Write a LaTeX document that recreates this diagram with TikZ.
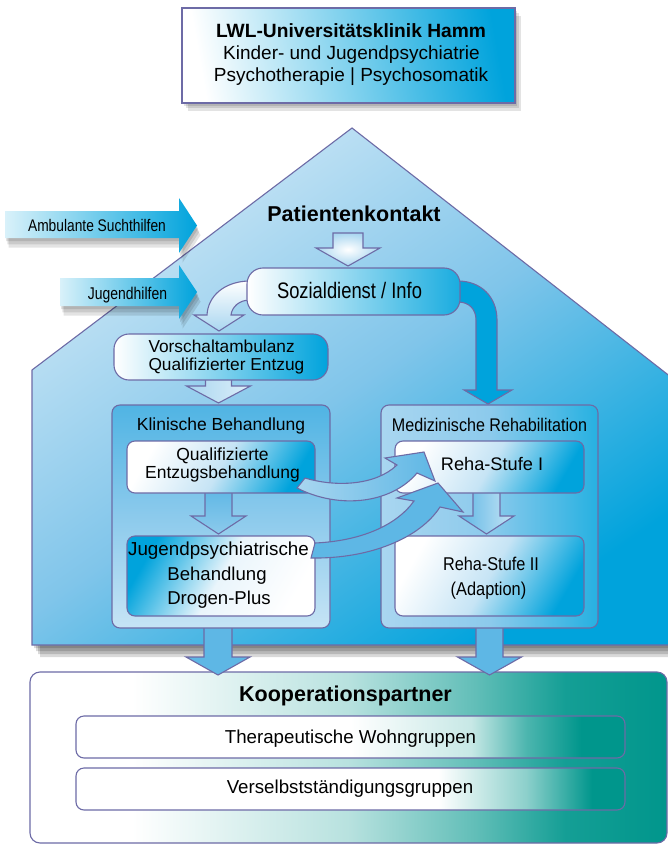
\documentclass[tikz,border=0pt]{standalone}
\usepackage{fontspec}
\setmainfont{Liberation Sans}
\newfontfamily\condf[FakeStretch=0.82]{Liberation Sans}
\newfontfamily\semif[FakeStretch=0.88]{Liberation Sans}
\newcommand\setfs[1]{\fontsize{#1pt}{#1pt}\selectfont}
\definecolor{cblue}{HTML}{00A3DC}
\definecolor{cbord}{HTML}{6D6BA6}
\definecolor{cteal}{HTML}{00968C}
\definecolor{clight}{HTML}{CDE7F6}
\definecolor{cmid}{HTML}{8CCAEC}
\definecolor{chouse}{HTML}{80C5EA}
\definecolor{cpale}{HTML}{A9D6F0}
\definecolor{csky}{HTML}{5EB7E5}
\definecolor{cwash}{HTML}{C6E4F5}
\pgfdeclarehorizontalshading{koopsh}{100bp}{color(0bp)=(white); color(33bp)=(white); color(50bp)=(cteal!28); color(60bp)=(cteal!62); color(67bp)=(cteal!92); color(75bp)=(cteal); color(100bp)=(cteal)}
\pgfdeclarehorizontalshading{innerash}{100bp}{color(0bp)=(white); color(50bp)=(white); color(61bp)=(cteal!22); color(66bp)=(cteal!70); color(71bp)=(cteal); color(100bp)=(cteal)}
\pgfdeclarehorizontalshading{innerbsh}{100bp}{color(0bp)=(white); color(58bp)=(white); color(66bp)=(cteal!45); color(72bp)=(cteal); color(100bp)=(cteal)}
\tikzset{
  bord/.style={draw=cbord, line width=1.1pt},
  lbl/.style={anchor=base, inner sep=0pt, outer sep=0pt, text=black},
  shadowfill/.style={fill=black, opacity=0.11},
  boxnode/.style={bord, inner sep=0pt, outer sep=0pt},
  whitebluebox/.style={boxnode, rounded corners=8pt, top color=white, bottom color=cblue, middle color=cwash, shading angle=60},
  panelarrow/.style={bord, left color=csky, middle color=cwash, right color=csky},
}
\newcommand{\blockdown}[7]{\path[#1] (#2-#6,#3) -- (#2+#6,#3) -- (#2+#6,#4) -- (#2+#7,#4) -- (#2,#5) -- (#2-#7,#4) -- (#2-#6,#4) -- cycle;}
\begin{document}
\begin{tikzpicture}[x=1pt,y=-1pt]
\useasboundingbox (0,0) rectangle (668,845);
\fill[white] (0,0) rectangle (668,845);

% ---------- top box ----------
\foreach \d in {2,4,6}{\fill[shadowfill] (182+\d,8+1.3*\d) rectangle (515+\d,103+1.3*\d);}
\node[boxnode, minimum width=333pt, minimum height=95pt, left color=white, middle color=cwash, right color=cblue, shading angle=100] (topbox) at (348.5,55.5) {};
\node[lbl, font=\bfseries\setfs{19.2}] (t1) at (351,38) {LWL-Universitätsklinik Hamm};
\node[lbl, font=\setfs{19}] (t2) at (351.5,60) {Kinder- und Jugendpsychiatrie};
\node[lbl, font=\setfs{19}] (t3) at (351,82) {Psychotherapie | Psychosomatik};

% ---------- house ----------
\foreach \d in {2,4,6,8}{\fill[fill=black, opacity=0.15, shift={(\d,1.5*\d)}] (32,370) -- (352,128) -- (676,381) -- (676,645) -- (32,645) -- cycle;}
\path[bord, top color=clight, bottom color=cblue, middle color=chouse, shading angle=35] (32,370) -- (352,128) -- (676,381) -- (676,645) -- (32,645) -- cycle;

% ---------- Kooperationspartner ----------
\node[boxnode, shade, shading=koopsh, rounded corners=10pt, minimum width=637pt, minimum height=171pt] (koop) at (348.5,757.5) {};
\node[boxnode, shade, shading=innerash, rounded corners=8pt, minimum width=549pt, minimum height=42pt] (wohn) at (350.5,737) {};
\node[boxnode, shade, shading=innerbsh, rounded corners=8pt, minimum width=549pt, minimum height=42pt] (versb) at (350.5,789) {};
\node[lbl, font=\bfseries\setfs{21.5}] (kt) at (345.5,701.5) {Kooperationspartner};
\node[lbl, font=\setfs{18.7}] (wt) at (350.5,743) {Therapeutische Wohngruppen};
\node[lbl, font=\setfs{18.7}] (vt) at (350,793) {Verselbstständigungsgruppen};

% arrows into Kooperationspartner
\blockdown{bord, left color=csky, middle color=white!70!cpale, right color=csky}{218}{622}{657}{675}{14}{32}
\blockdown{bord, left color=csky, middle color=white!70!cpale, right color=csky}{489.5}{622}{657}{675}{13.5}{32}

% ---------- left arrows ----------
\foreach \d in {2,4,6}{\fill[shadowfill, shift={(0.6*\d,1.6*\d)}] (5,211) -- (179,211) -- (179,198) -- (197,225.5) -- (179,253) -- (179,238) -- (5,238) -- cycle;}
\path[left color=white!85!cblue, middle color=cpale, right color=cblue] (5,211) -- (179,211) -- (179,198) -- (197,225.5) -- (179,253) -- (179,238) -- (5,238) -- cycle;
\node[lbl, font=\condf\setfs{16.8}] (amb) at (97,231) {Ambulante Suchthilfen};
\foreach \d in {2,4,6}{\fill[shadowfill, shift={(0.6*\d,1.6*\d)}] (60,278) -- (179,278) -- (179,265) -- (197,292) -- (179,319) -- (179,306) -- (60,306) -- cycle;}
\path[left color=white!85!cblue, middle color=cpale, right color=cblue] (60,278) -- (179,278) -- (179,265) -- (197,292) -- (179,319) -- (179,306) -- (60,306) -- cycle;
\node[lbl, font=\condf\setfs{17}] (jh) at (127.5,299) {Jugendhilfen};

% ---------- Patientenkontakt ----------
\node[lbl, font=\bfseries\setfs{21.5}] (pk) at (354,221) {Patientenkontakt};
\blockdown{bord, inner color=white, outer color=cpale}{348}{233}{248}{266}{15}{32}

% curved arrows out of Sozialdienst
\path[bord, top color=white, bottom color=cpale] (262,281) -- (248,281) .. controls (224,282) and (208,296) .. (207,315) -- (194,315) -- (219,331) -- (244,315) -- (231,315) .. controls (232,307) and (239,300) .. (250,300) -- (262,300) -- cycle;
\path[bord, fill=cblue] (445,281) -- (458,281) .. controls (481,281) and (497,297) .. (497,320) -- (497,390) -- (512,390) -- (488,404) -- (464,390) -- (476,390) -- (476,320) .. controls (476,309) and (469,302) .. (458,302) -- (445,302) -- cycle;

\node[boxnode, rounded corners=16pt, minimum width=213pt, minimum height=47pt, left color=white, middle color=cwash!85!cblue, right color=cblue!90!white] (soz) at (353.5,291.5) {};
\node[lbl, font=\condf\setfs{22.4}] (sozt) at (349.5,298) {Sozialdienst / Info};

% ---------- Vorschaltambulanz ----------
\blockdown{bord, left color=cpale, right color=white!60!cpale}{218.5}{372}{386}{403}{13}{32}
\node[boxnode, rounded corners=15pt, minimum width=214pt, minimum height=46pt, left color=white, middle color=cmid, right color=cblue] (vor) at (221,357) {};
\node[lbl, anchor=base west, font=\setfs{17.3}] (v1) at (148.5,352) {Vorschaltambulanz};
\node[lbl, anchor=base west, font=\setfs{17.3}] (v2) at (148.5,370) {Qualifizierter Entzug};

% ---------- panels ----------
\node[boxnode, rounded corners=8pt, minimum width=218pt, minimum height=223pt, top color=csky!85!cblue, bottom color=cwash, middle color=cmid] (klin) at (221,516.5) {};
\node[boxnode, rounded corners=8pt, minimum width=217pt, minimum height=223pt, left color=cpale, right color=cblue!85!white, middle color=cmid] (med) at (489.5,516.5) {};
\node[lbl, font=\setfs{17.5}] (klint) at (221,430) {Klinische Behandlung};
\node[lbl, font=\semif\setfs{18.3}] (medt) at (489.5,431.5) {Medizinische Rehabilitation};

% inner arrows
\blockdown{bord, top color=csky, bottom color=cmid}{218.5}{488}{516}{534}{13.5}{27.5}
\blockdown{bord, left color=csky, right color=cwash}{486.5}{488}{516}{534}{13.5}{27.5}

% inner boxes
\node[whitebluebox, minimum width=188pt, minimum height=52pt] (qual) at (221,467) {};
\node[boxnode, rounded corners=8pt, minimum width=188pt, minimum height=80pt, top color=cblue, bottom color=white, middle color=white!75!cpale, shading angle=60] (jug) at (221,576) {};
\node[whitebluebox, minimum width=189pt, minimum height=52pt] (reha1) at (489.5,467) {};
\node[whitebluebox, minimum width=189pt, minimum height=80pt] (reha2) at (489.5,576) {};

\node[lbl, font=\setfs{17.5}] (q1) at (222.5,460) {Qualifizierte};
\node[lbl, font=\setfs{17.5}] (q2) at (222.5,478) {Entzugsbehandlung};
\node[lbl, font=\setfs{18.8}] (j1) at (218.5,555) {Jugendpsychiatrische};
\node[lbl, font=\setfs{18.6}] (j2) at (217,580) {Behandlung};
\node[lbl, font=\setfs{18.6}] (j3) at (219,604) {Drogen-Plus};
\node[lbl, font=\setfs{18.2}] (r1) at (492,470.5) {Reha-Stufe I};
\node[lbl, font=\semif\setfs{18.5}] (r2) at (491,570) {Reha-Stufe II};
\node[lbl, font=\semif\setfs{18.6}] (r3) at (488.5,595) {(Adaption)};

% curved arrows between panels
\path[bord, left color=cpale, middle color=white, right color=csky] (305,478) .. controls (335,487) and (375,486) .. (397,465) -- (385,458) -- (424,452) -- (435,481) -- (417,473) .. controls (392,503) and (340,510) .. (297,488) -- cycle;
\path[bord, left color=csky, middle color=white, right color=csky] (315,543) .. controls (360,541) and (396,526) .. (414,501) -- (397,498) -- (438,483) -- (463,512) -- (440,507) .. controls (420,538) and (370,559) .. (311,558) -- cycle;

\end{tikzpicture}
\end{document}
